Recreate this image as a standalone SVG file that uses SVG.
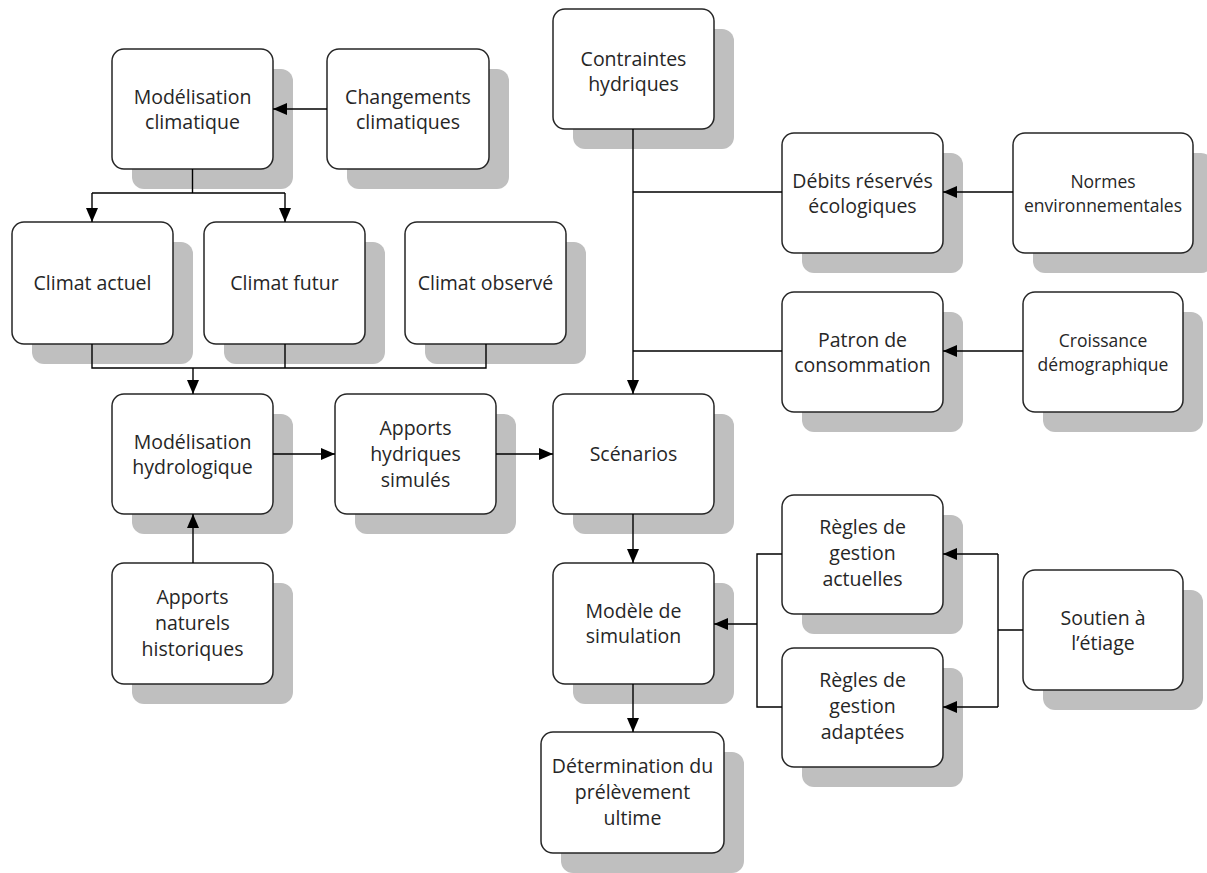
<svg xmlns="http://www.w3.org/2000/svg" width="1207" height="873" viewBox="0 0 1207 873">
<style>
.shadow{fill:#bfbfbf;stroke:none}
.box{fill:#ffffff;stroke:#262626;stroke-width:1.5}
.t{font-family:"Open Sans","Noto Sans",sans-serif;font-size:19.5px;fill:#262626;text-anchor:middle}
.s{font-size:17.5px}
.c{fill:none;stroke:#000;stroke-width:1.4}
</style>
<defs>
<marker id="arr" markerUnits="userSpaceOnUse" markerWidth="14" markerHeight="12" refX="14" refY="6" orient="auto">
<path d="M0,0 L14,6 L0,12 z" fill="#000"/>
</marker>
</defs>
<rect width="1207" height="873" fill="#ffffff"/>

<g id="mod-climatique">
<rect class="shadow" x="132" y="69" width="161" height="120" rx="12"/>
<rect class="box" x="112" y="49" width="161" height="120" rx="12"/>
<text class="t"><tspan x="192.5" y="104">Modélisation</tspan><tspan x="192.5" y="129">climatique</tspan></text>
</g>
<g id="changements-climatiques">
<rect class="shadow" x="347" y="69" width="162" height="120" rx="12"/>
<rect class="box" x="327" y="49" width="162" height="120" rx="12"/>
<text class="t"><tspan x="408" y="104">Changements</tspan><tspan x="408" y="129">climatiques</tspan></text>
</g>
<g id="climat-actuel">
<rect class="shadow" x="32" y="242" width="161" height="122" rx="12"/>
<rect class="box" x="12" y="222" width="161" height="122" rx="12"/>
<text class="t" x="92.5" y="290">Climat actuel</text>
</g>
<g id="climat-futur">
<rect class="shadow" x="224" y="242" width="161" height="122" rx="12"/>
<rect class="box" x="204" y="222" width="161" height="122" rx="12"/>
<text class="t" x="284.5" y="290">Climat futur</text>
</g>
<g id="climat-observe">
<rect class="shadow" x="425" y="242" width="161" height="122" rx="12"/>
<rect class="box" x="405" y="222" width="161" height="122" rx="12"/>
<text class="t" x="485.5" y="290">Climat observé</text>
</g>
<g id="mod-hydrologique">
<rect class="shadow" x="132" y="414" width="161" height="120" rx="12"/>
<rect class="box" x="112" y="394" width="161" height="120" rx="12"/>
<text class="t"><tspan x="192.5" y="449">Modélisation</tspan><tspan x="192.5" y="474">hydrologique</tspan></text>
</g>
<g id="apports-hydriques">
<rect class="shadow" x="355" y="414" width="161" height="120" rx="12"/>
<rect class="box" x="335" y="394" width="161" height="120" rx="12"/>
<text class="t"><tspan x="415.5" y="435">Apports</tspan><tspan x="415.5" y="461">hydriques</tspan><tspan x="415.5" y="487">simulés</tspan></text>
</g>
<g id="apports-naturels">
<rect class="shadow" x="132" y="583" width="161" height="121" rx="12"/>
<rect class="box" x="112" y="563" width="161" height="121" rx="12"/>
<text class="t"><tspan x="192.5" y="604">Apports</tspan><tspan x="192.5" y="630">naturels</tspan><tspan x="192.5" y="656">historiques</tspan></text>
</g>
<g id="contraintes">
<rect class="shadow" x="573" y="29" width="161" height="120" rx="12"/>
<rect class="box" x="553" y="9" width="161" height="120" rx="12"/>
<text class="t"><tspan x="633.5" y="66">Contraintes</tspan><tspan x="633.5" y="91">hydriques</tspan></text>
</g>
<g id="debits">
<rect class="shadow" x="802" y="153" width="161" height="120" rx="12"/>
<rect class="box" x="782" y="133" width="161" height="120" rx="12"/>
<text class="t"><tspan x="862.5" y="188">Débits réservés</tspan><tspan x="862.5" y="213">écologiques</tspan></text>
</g>
<g id="normes">
<rect class="shadow" x="1033" y="153" width="180" height="120" rx="12"/>
<rect class="box" x="1013" y="133" width="180" height="120" rx="12"/>
<text class="t s"><tspan x="1103" y="188">Normes</tspan><tspan x="1103" y="212">environnementales</tspan></text>
</g>
<g id="patron">
<rect class="shadow" x="802" y="312" width="161" height="120" rx="12"/>
<rect class="box" x="782" y="292" width="161" height="120" rx="12"/>
<text class="t"><tspan x="862.5" y="347">Patron de</tspan><tspan x="862.5" y="372">consommation</tspan></text>
</g>
<g id="croissance">
<rect class="shadow" x="1043" y="312" width="160" height="120" rx="12"/>
<rect class="box" x="1023" y="292" width="160" height="120" rx="12"/>
<text class="t s"><tspan x="1103" y="347">Croissance</tspan><tspan x="1103" y="371">démographique</tspan></text>
</g>
<g id="scenarios">
<rect class="shadow" x="573" y="414" width="161" height="120" rx="12"/>
<rect class="box" x="553" y="394" width="161" height="120" rx="12"/>
<text class="t" x="633.5" y="461">Scénarios</text>
</g>
<g id="modele-simulation">
<rect class="shadow" x="573" y="583" width="161" height="121" rx="12"/>
<rect class="box" x="553" y="563" width="161" height="121" rx="12"/>
<text class="t"><tspan x="633.5" y="618">Modèle de</tspan><tspan x="633.5" y="643">simulation</tspan></text>
</g>
<g id="regles-actuelles">
<rect class="shadow" x="802" y="515" width="161" height="119" rx="12"/>
<rect class="box" x="782" y="495" width="161" height="119" rx="12"/>
<text class="t"><tspan x="862.5" y="534">Règles de</tspan><tspan x="862.5" y="560">gestion</tspan><tspan x="862.5" y="586">actuelles</tspan></text>
</g>
<g id="regles-adaptees">
<rect class="shadow" x="802" y="668" width="161" height="119" rx="12"/>
<rect class="box" x="782" y="648" width="161" height="119" rx="12"/>
<text class="t"><tspan x="862.5" y="687">Règles de</tspan><tspan x="862.5" y="713">gestion</tspan><tspan x="862.5" y="739">adaptées</tspan></text>
</g>
<g id="soutien">
<rect class="shadow" x="1043" y="590" width="160" height="120" rx="12"/>
<rect class="box" x="1023" y="570" width="160" height="120" rx="12"/>
<text class="t"><tspan x="1103" y="625">Soutien à</tspan><tspan x="1103" y="650">l’étiage</tspan></text>
</g>
<g id="determination">
<rect class="shadow" x="561" y="752" width="183" height="121" rx="12"/>
<rect class="box" x="541" y="732" width="183" height="121" rx="12"/>
<text class="t"><tspan x="632.5" y="773">Détermination du</tspan><tspan x="632.5" y="799">prélèvement</tspan><tspan x="632.5" y="825">ultime</tspan></text>
</g>

<g id="connectors">
<path class="c" d="M327,109 H273" marker-end="url(#arr)"/>
<path class="c" d="M192.5,169 V193 M92,193 H285"/>
<path class="c" d="M92,193 V222" marker-end="url(#arr)"/>
<path class="c" d="M285,193 V222" marker-end="url(#arr)"/>
<path class="c" d="M92,344 V368 H486 V344 M285,344 V368"/>
<path class="c" d="M193,368 V394" marker-end="url(#arr)"/>
<path class="c" d="M273,454 H335" marker-end="url(#arr)"/>
<path class="c" d="M496,454 H553" marker-end="url(#arr)"/>
<path class="c" d="M193,563 V514" marker-end="url(#arr)"/>
<path class="c" d="M633,129 V394" marker-end="url(#arr)"/>
<path class="c" d="M782,192 H633 M782,351 H633"/>
<path class="c" d="M1013,192 H943" marker-end="url(#arr)"/>
<path class="c" d="M1023,351 H943" marker-end="url(#arr)"/>
<path class="c" d="M633,514 V563" marker-end="url(#arr)"/>
<path class="c" d="M782,554 H757 V707 H782"/>
<path class="c" d="M757,624 H714" marker-end="url(#arr)"/>
<path class="c" d="M1023,630 H998 M998,554 V707"/>
<path class="c" d="M998,554 H943" marker-end="url(#arr)"/>
<path class="c" d="M998,707 H943" marker-end="url(#arr)"/>
<path class="c" d="M633,684 V732" marker-end="url(#arr)"/>
</g>
</svg>
